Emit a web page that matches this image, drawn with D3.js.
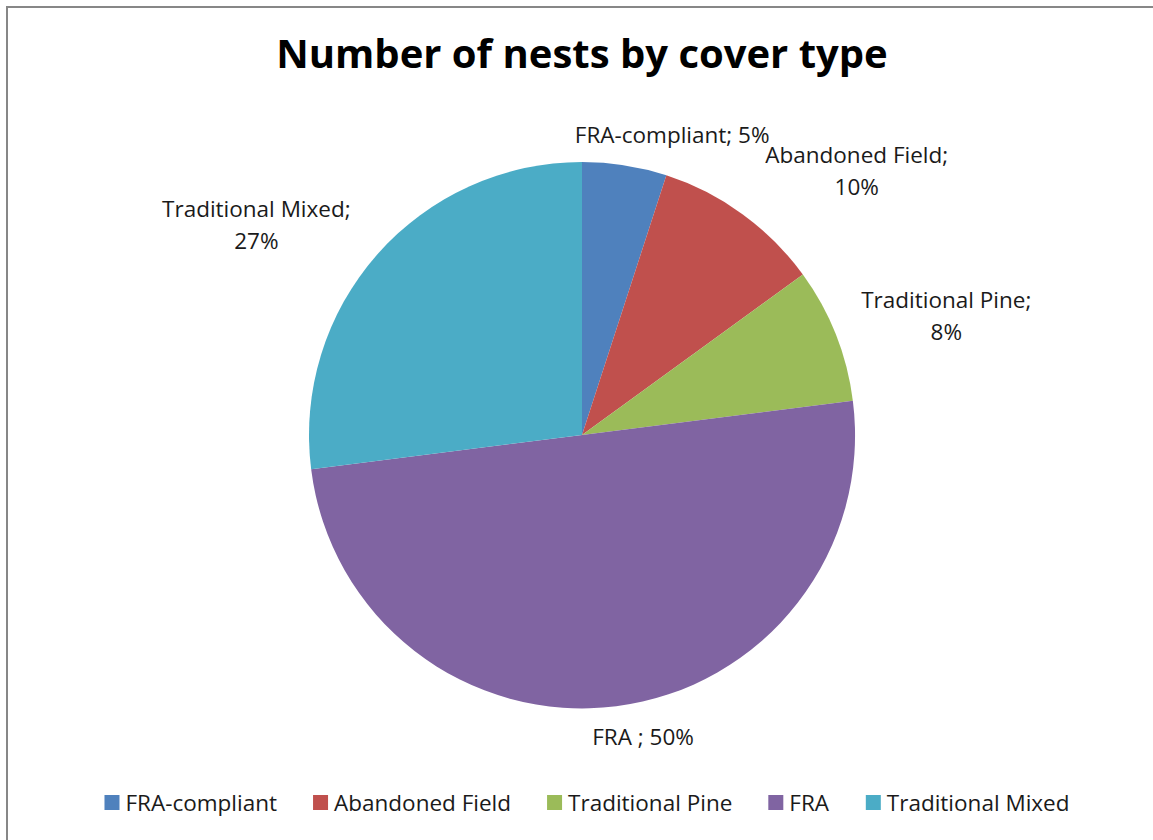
<!DOCTYPE html>
<html>
<head>
<meta charset="utf-8">
<script src="https://cdn.jsdelivr.net/npm/d3@7"></script>
<style>
  body { margin: 0; background: #fff; }
  svg text { font-family: "Open Sans", Lato, sans-serif; fill: #1a1a1a; font-variant-ligatures: none; }
</style>
</head>
<body>
<div id="chart"></div>
<script>
const kWidth = 1153;
const kHeight = 840;

const categories = ["FRA-compliant", "Abandoned Field", "Traditional Pine", "FRA", "Traditional Mixed"];
const shares = [5, 10, 8, 50, 27];
const labelLines = [
  ["FRA-compliant; 5%"],
  ["Abandoned Field;", "10%"],
  ["Traditional Pine;", "8%"],
  ["FRA ; 50%"],
  ["Traditional Mixed;", "27%"]
];
const colors = ["#4f81bd", "#c0504d", "#9bbb59", "#8064a2", "#4bacc6"];

// label placement: angle shift (deg) from slice middle and radius
const labelLayout = [
  { shift: 7.8, r: 312 },
  { shift: 10.3, r: 380 },
  { shift: 3.6, r: 383 },
  { shift: -4.2, r: 309 },
  { shift: -8.7, r: 387 }
];

const cx = 582, cy = 435, radius = 273;

const svg = d3.select("#chart").append("svg")
  .attr("width", kWidth)
  .attr("height", kHeight);

svg.append("rect")
  .attr("x", 7).attr("y", 7)
  .attr("width", kWidth + 20).attr("height", kHeight + 20)
  .attr("fill", "#fff")
  .attr("stroke", "#878787")
  .attr("stroke-width", 2);

svg.append("text")
  .attr("x", 582).attr("y", 68)
  .attr("text-anchor", "middle")
  .style("font-size", "40px")
  .style("font-weight", "bold")
  .style("fill", "#000")
  .text("Number of nests by cover type");

const pie = d3.pie().sort(null).value(d => d);
const arcs = pie(shares);
const arc = d3.arc().innerRadius(0).outerRadius(radius);

const g = svg.append("g").attr("transform", `translate(${cx},${cy})`);

g.selectAll("path")
  .data(arcs)
  .enter()
  .append("path")
  .attr("d", arc)
  .attr("fill", (d, i) => colors[i]);

const labels = g.selectAll("text.lbl")
  .data(arcs)
  .enter()
  .append("text")
  .attr("class", "lbl")
  .attr("text-anchor", "middle")
  .style("font-size", "22.5px")
  .attr("transform", (d, i) => {
    const a = (d.startAngle + d.endAngle) / 2 + labelLayout[i].shift * Math.PI / 180;
    const r = labelLayout[i].r;
    const n = labelLines[i].length;
    const x = r * Math.sin(a);
    const y = -r * Math.cos(a) + 7 - (n - 1) * 16;
    return `translate(${x},${y})`;
  });

labels.selectAll("tspan")
  .data((d, i) => labelLines[i])
  .enter()
  .append("tspan")
  .attr("x", 0)
  .attr("dy", (d, j) => j === 0 ? 0 : 32)
  .text(d => d);

// legend
const legend = svg.append("g").attr("transform", "translate(0,811)");
const items = legend.selectAll("g")
  .data(categories)
  .enter()
  .append("g");

items.append("rect")
  .attr("y", -16)
  .attr("width", 15).attr("height", 15)
  .attr("fill", (d, i) => colors[i]);

items.append("text")
  .attr("x", 21)
  .attr("y", 0)
  .style("font-size", "22.5px")
  .text(d => d);

const gap = 36;
let xPos = 0;
const offsets = [];
items.each(function() {
  offsets.push(xPos);
  xPos += this.getBBox().width + gap;
});
const total = xPos - gap;
const start = 587 - total / 2;
items.attr("transform", (d, i) => `translate(${start + offsets[i]},0)`);
</script>
</body>
</html>
